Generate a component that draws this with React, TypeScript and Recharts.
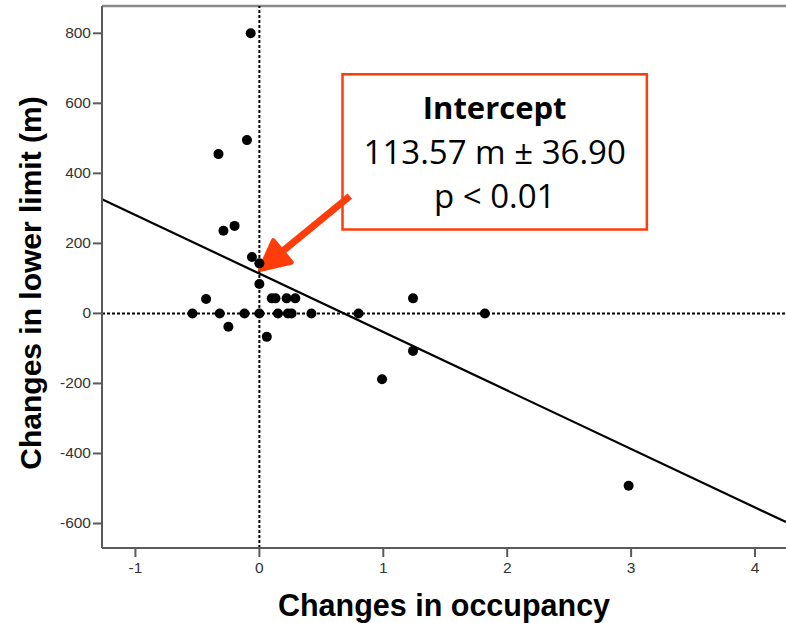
import React from 'react';
import {
    ScatterChart, Scatter, XAxis, YAxis, ReferenceLine, ReferenceArea
} from 'recharts';

// change in occupancy (x) vs change in lower limit in m (y)
const occupancyChange = [
    -0.07, -0.10, -0.33, -0.29, -0.20, -0.06, 0.00, 0.00, -0.43, -0.54,
    -0.32, -0.12, 0.00, 0.15, 0.23, 0.26, 0.42, -0.25, 0.06, 0.10,
    0.13, 0.22, 0.29, 0.80, 1.24, 1.82, 1.24, 0.99, 2.98,
];
const lowerLimitChange = [
    800, 495, 455, 236, 250, 161, 143, 84, 41, 0,
    0, 0, 0, 0, 0, 0, 0, -38, -67, 43,
    43, 43, 43, 0, 43, 0, -107, -188, -492,
];

const xTicks = [-1, 0, 1, 2, 3, 4];
const yTicks = [-600, -400, -200, 0, 200, 400, 600, 800];
const xDomain = [-1.27, 4.25];
const yDomain = [-670, 878];

// fitted line end points and the note on the intercept
const fitX = [-1.27, 4.25];
const fitY = [326, -596];
const arrowX = [0.73, 0.01];
const arrowY = [335, 126];
const noteX = [0.671, 3.127];
const noteY = [240, 683];
const noteLines = ['Intercept', '113.57 m ± 36.90', 'p < 0.01'];

const points = occupancyChange.map((x, i) => ({ x, y: lowerLimitChange[i] }));

const RED = '#ff3d0a';
const AXIS = '#5a5a5a';
const SANS = '"Liberation Sans", Arial, sans-serif';

const Dot = (p: any) => <circle cx={p.cx} cy={p.cy} r={5} fill="#000" />;

const Arrow = (p: any) => {
    const { x1, y1, x2, y2 } = p;
    const dx = x2 - x1;
    const dy = y2 - y1;
    const len = Math.sqrt(dx * dx + dy * dy);
    const ux = dx / len;
    const uy = dy / len;
    const headLen = 28;
    const half = 14;
    const bx = x2 - ux * headLen;
    const by = y2 - uy * headLen;
    const head = [
        [x2, y2],
        [bx - uy * half, by + ux * half],
        [bx + uy * half, by - ux * half],
    ].map((q) => q.join(',')).join(' ');
    return (
        <g>
            <line x1={x1} y1={y1} x2={bx + ux * 4} y2={by + uy * 4} stroke={RED} strokeWidth={7} />
            <polygon points={head} fill={RED} stroke={RED} strokeWidth={5} strokeLinejoin="round" />
        </g>
    );
};

const NoteLabel = (p: any) => {
    const vb = p.viewBox;
    const cx = vb.x + vb.width / 2;
    return (
        <g fontFamily='"Open Sans", sans-serif' fill="#000" textAnchor="middle">
            <text x={cx} y={vb.y + 45} fontSize={31} fontWeight="bold">{noteLines[0]}</text>
            <text x={cx} y={vb.y + 90} fontSize={33}>{noteLines[1]}</text>
            <text x={cx} y={vb.y + 134} fontSize={33}>{noteLines[2]}</text>
        </g>
    );
};

const YLabel = (p: any) => {
    const vb = p.viewBox;
    const cy = vb.y + vb.height / 2 + 6;
    return (
        <text
            x={41}
            y={cy}
            transform={`rotate(-90, 41, ${cy})`}
            textAnchor="middle"
            fontFamily={SANS}
            fontWeight="bold"
            fontSize={30}
            fill="#000"
        >
            Changes in lower limit (m)
        </text>
    );
};

const Tick = (p: any) => {
    const { x, y, payload, textAnchor, verticalAnchor } = p;
    const dy = verticalAnchor === 'start' ? 12 : 5;
    return (
        <text x={x} y={y + dy} textAnchor={textAnchor} fontFamily={SANS} fontSize={15.5} fill="#333">
            {payload.value}
        </text>
    );
};

export default function App() {
    return (
        <div style={{ position: 'absolute', left: 0, top: 0, width: 786, height: 623, background: '#fff' }}>
            <ScatterChart width={786} height={623} margin={{ top: 6, right: 0, bottom: 0, left: 0 }}>
                <XAxis
                    type="number"
                    dataKey="x"
                    domain={xDomain}
                    ticks={xTicks}
                    allowDataOverflow
                    height={75}
                    stroke={AXIS}
                    strokeWidth={2}
                    tickSize={9}
                    tickMargin={4}
                    tick={Tick}
                    label={{
                        value: 'Changes in occupancy',
                        position: 'insideBottom',
                        offset: 7,
                        fontSize: 30.5,
                        fontWeight: 'bold',
                        fill: '#000',
                        fontFamily: SANS,
                    }}
                />
                <YAxis
                    type="number"
                    dataKey="y"
                    domain={yDomain}
                    ticks={yTicks}
                    allowDataOverflow
                    width={102}
                    stroke={AXIS}
                    strokeWidth={2}
                    tickSize={9}
                    tickMargin={2}
                    tick={Tick}
                    label={YLabel}
                />
                <ReferenceLine y={yDomain[1]} stroke="#888" strokeWidth={2.5} />
                <ReferenceLine x={0} stroke="#000" strokeWidth={2} strokeDasharray="3 2" />
                <ReferenceLine y={0} stroke="#000" strokeWidth={2} strokeDasharray="3 2" />
                <ReferenceLine
                    segment={[{ x: fitX[0], y: fitY[0] }, { x: fitX[1], y: fitY[1] }]}
                    stroke="#000"
                    strokeWidth={2.2}
                />
                <Scatter data={points} shape={Dot} isAnimationActive={false} />
                <ReferenceArea
                    x1={noteX[0]}
                    x2={noteX[1]}
                    y1={noteY[0]}
                    y2={noteY[1]}
                    fill="#fff"
                    fillOpacity={1}
                    stroke={RED}
                    strokeWidth={2.5}
                    label={NoteLabel}
                />
                <ReferenceLine
                    segment={[{ x: arrowX[0], y: arrowY[0] }, { x: arrowX[1], y: arrowY[1] }]}
                    shape={Arrow}
                />
            </ScatterChart>
        </div>
    );
}
